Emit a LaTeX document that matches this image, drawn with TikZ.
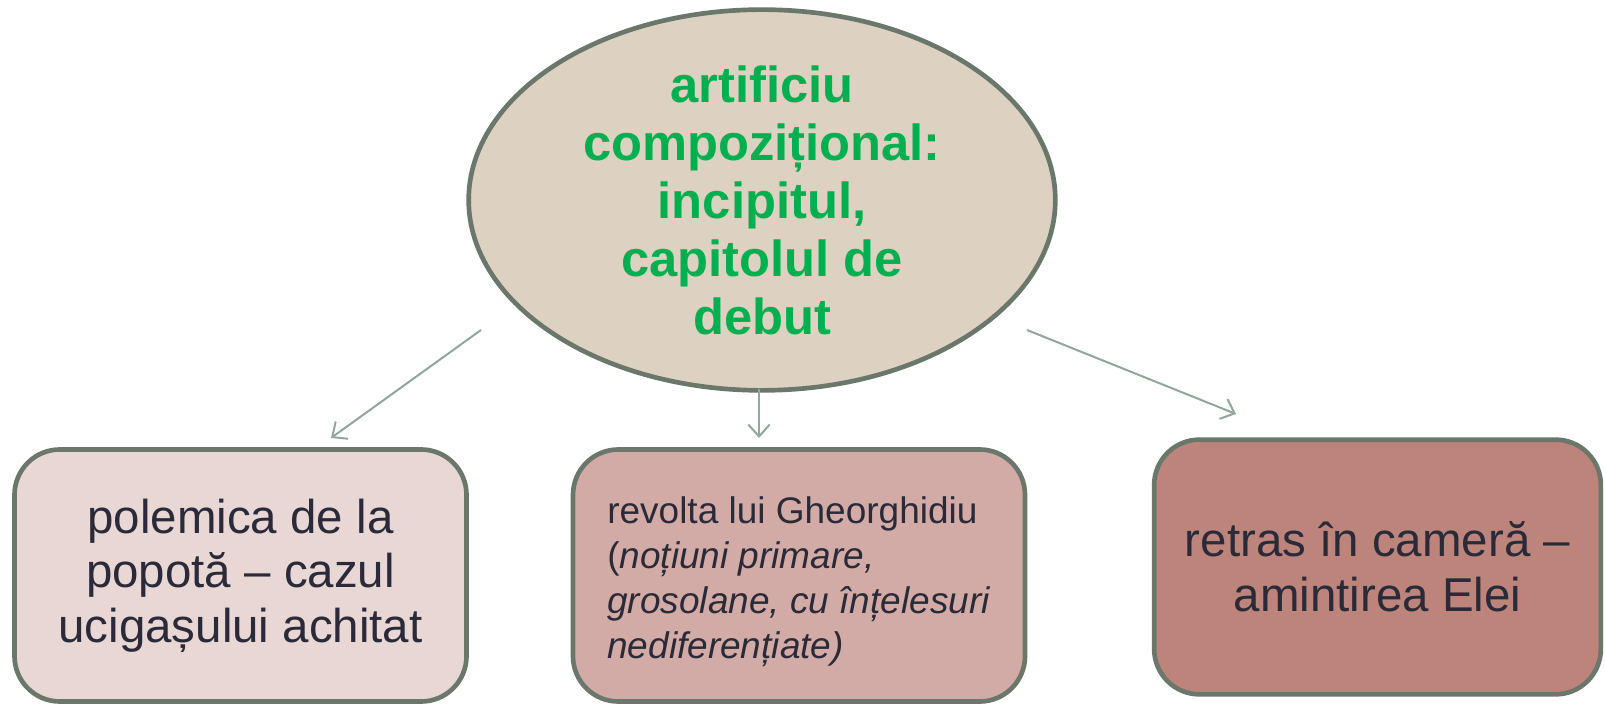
\documentclass[tikz,border=0pt]{standalone}
\usepackage{fontspec}
\setmainfont{Liberation Sans}
\usetikzlibrary{shapes.geometric,arrows.meta}

\definecolor{rim}{HTML}{6B776B}
\definecolor{linkgrey}{HTML}{93A69C}
\definecolor{ink}{HTML}{2A2A38}
\definecolor{headfill}{HTML}{DDD2C2}
\definecolor{headtext}{HTML}{00B050}
\definecolor{boxA}{HTML}{E8D7D4}
\definecolor{boxB}{HTML}{D3ABA6}
\definecolor{boxC}{HTML}{BC847B}

\tikzset{
  card/.style={draw=rim, line width=3.5pt, rounded corners=34pt, text=ink,
    inner sep=0pt, minimum width=339pt, minimum height=189pt},
  bigtext/.style={align=center, font=\fontsize{35.6}{41}\selectfont},
  link/.style={draw=linkgrey, line width=1.5pt,
    -{Straight Barb[length=9pt,width=16pt]}}
}

\begin{document}
\begin{tikzpicture}[x=0.75pt,y=-0.75pt]
  \useasboundingbox (0,0) rectangle (1605,705);

  % central idea
  \node[ellipse, draw=rim, line width=3.5pt, fill=headfill, inner sep=0pt,
    minimum width=440pt, minimum height=282pt, text=headtext, align=center,
    font=\bfseries\fontsize{38}{43.5}\selectfont] (theme) at (762,200)
    {artificiu\\compozițional:\\incipitul,\\capitolul de\\debut};

  % the three episodes
  \node[card, fill=boxA, bigtext] (popota) at (240.5,575.5)
    {polemica de la\\popotă – cazul\\ucigașului achitat};
  \node[card, fill=boxB, align=left,
    font=\fontsize{27.75}{33.75}\selectfont] (revolta) at (799,575.5)
    {\rule{0pt}{30pt}revolta lui Gheorghidiu\\(\textit{noțiuni primare,}\\
     \textit{grosolane, cu înțelesuri}\\\textit{nediferențiate)}};
  \node[card, fill=boxC, bigtext, minimum width=335pt, minimum height=191pt]
    (camera) at (1377.5,567) {retras în cameră –\\amintirea Elei};

  % connectors
  \coordinate (fromL) at (481,330); \coordinate (toL) at (331,438);
  \coordinate (fromM) at (759,389); \coordinate (toM) at (759,438);
  \coordinate (fromR) at (1027,330); \coordinate (toR) at (1236,414);
  \draw[link] (fromL) -- (toL);
  \draw[link] (fromM) -- (toM);
  \draw[link] (fromR) -- (toR);
\end{tikzpicture}
\end{document}
